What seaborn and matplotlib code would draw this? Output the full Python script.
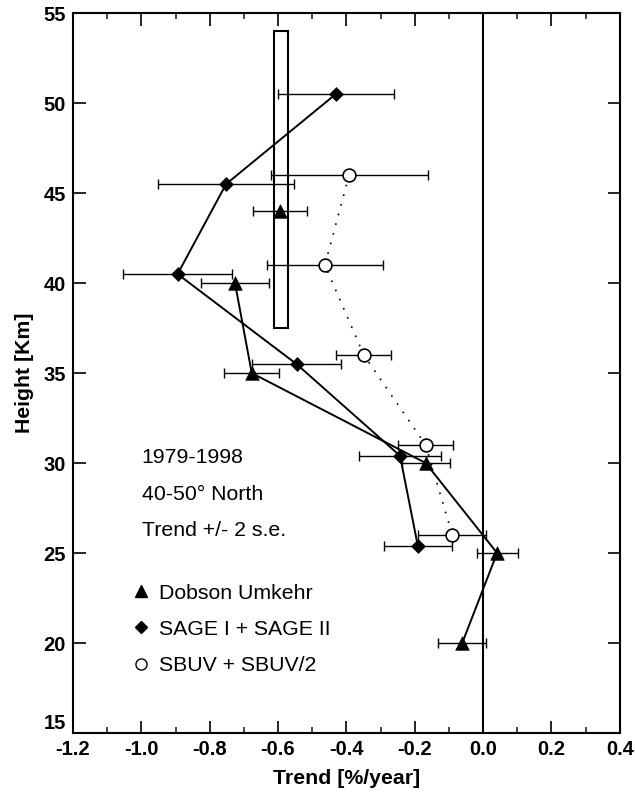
import numpy as np
import pandas as pd
import seaborn as sns
import matplotlib.pyplot as plt
from matplotlib.lines import Line2D
from matplotlib.patches import Rectangle
from matplotlib.ticker import MultipleLocator

# Dobson Umkehr trends (the top point is not joined to the line)
dobson_height = [44, 40, 35, 30, 25, 20]
dobson_trend = [-0.594, -0.726, -0.677, -0.168, 0.041, -0.061]
dobson_err = [0.08, 0.10, 0.08, 0.07, 0.06, 0.07]
dobson_joined = [False, True, True, True, True, True]

# SAGE I + SAGE II trends
sage_height = [50.5, 45.5, 40.5, 35.5, 30.4, 25.4]
sage_trend = [-0.431, -0.752, -0.894, -0.546, -0.243, -0.191]
sage_err = [0.17, 0.20, 0.16, 0.13, 0.12, 0.10]

# SBUV + SBUV/2 trends
sbuv_height = [46, 41, 36, 31, 26]
sbuv_trend = [-0.392, -0.463, -0.349, -0.168, -0.09]
sbuv_err = [0.23, 0.17, 0.08, 0.08, 0.10]

# vertical box
box_x = [-0.613, -0.570]
box_y = [37.5, 54.0]

xticks = [-1.2, -1.0, -0.8, -0.6, -0.4, -0.2, 0.0, 0.2, 0.4]
xtick_labels = ["-1.2", "-1.0", "-0.8", "-0.6", "-0.4", "-0.2", "0.0", "0.2", "0.4"]
yticks = [15, 20, 25, 30, 35, 40, 45, 50, 55]

sns.set_theme(style="ticks")
plt.rcParams['font.family'] = ['Liberation Sans', 'DejaVu Sans']
plt.rcParams['text.color'] = 'black'
plt.rcParams['axes.labelcolor'] = 'black'

df_dob = pd.DataFrame({"trend": dobson_trend, "height": dobson_height,
                       "err": dobson_err, "joined": dobson_joined})
df_sage = pd.DataFrame({"trend": sage_trend, "height": sage_height, "err": sage_err})
df_sbuv = pd.DataFrame({"trend": sbuv_trend, "height": sbuv_height, "err": sbuv_err})

fig = plt.figure(figsize=(6.35, 7.92), dpi=100)
ax = fig.add_axes([0.115, 0.0745, 0.861, 0.909])

# zero line
ax.axvline(0.0, color="black", lw=1.5, zorder=1)

# box
ax.add_patch(Rectangle((box_x[0], box_y[0]), box_x[1] - box_x[0], box_y[1] - box_y[0],
                       fill=False, edgecolor="black", lw=1.5, zorder=2))

# error bars
for d in (df_dob, df_sage, df_sbuv):
    ax.errorbar(d["trend"], d["height"], xerr=d["err"], fmt="none", ecolor="black",
                elinewidth=1.0, capsize=3.5, capthick=1.0, zorder=3)

# connecting lines
sns.lineplot(data=df_dob[df_dob["joined"]], x="trend", y="height", sort=False,
             estimator=None, ax=ax, color="black", lw=1.4, zorder=4)
sns.lineplot(data=df_sage, x="trend", y="height", sort=False, estimator=None, ax=ax,
             color="black", lw=1.4, zorder=4)
sns.lineplot(data=df_sbuv, x="trend", y="height", sort=False, estimator=None, ax=ax,
             color="black", lw=1.2, linestyle=(0, (1, 5)), zorder=4)

# markers
sns.scatterplot(data=df_dob, x="trend", y="height", ax=ax, marker="^", s=95,
                color="black", edgecolor="black", linewidth=0.5, zorder=5)
sns.scatterplot(data=df_sage, x="trend", y="height", ax=ax, marker="D", s=50,
                color="black", edgecolor="black", linewidth=0.5, zorder=5)
sns.scatterplot(data=df_sbuv, x="trend", y="height", ax=ax, marker="o", s=85,
                color="white", edgecolor="black", linewidth=1.2, zorder=5)

ax.set_xlim(-1.2, 0.4)
ax.set_ylim(15, 55)
ax.set_xticks(xticks)
ax.set_xticklabels(xtick_labels)
ax.set_yticks(yticks)
ax.xaxis.set_minor_locator(MultipleLocator(0.1))
ax.tick_params(axis="both", which="major", direction="in", top=True, right=True,
               length=9, width=1.2, pad=5, labelsize=14.5, colors="black")
ax.tick_params(axis="x", which="minor", direction="in", top=True, bottom=True,
               length=4, width=1.2)
for lab in ax.get_xticklabels() + ax.get_yticklabels():
    lab.set_fontweight("bold")
# bottom y label sits on the corner, as in the original
ax.get_yticklabels()[0].set_verticalalignment("bottom")
for sp in ax.spines.values():
    sp.set_linewidth(1.5)
    sp.set_color("black")

ax.set_xlabel("Trend [%/year]", fontsize=15.3, fontweight="bold", labelpad=7)
ax.set_ylabel("Height [Km]", fontsize=15.3, fontweight="bold", labelpad=7)

ax.text(0.1256, 0.382, "1979-1998", transform=ax.transAxes, fontsize=15.3, va="center")
ax.text(0.1256, 0.331, "40-50° North", transform=ax.transAxes, fontsize=15.3, va="center")
ax.text(0.1256, 0.281, "Trend +/- 2 s.e.", transform=ax.transAxes, fontsize=15.3, va="center")

handles = [
    Line2D([], [], ls="none", marker="^", color="black", markersize=8),
    Line2D([], [], ls="none", marker="D", color="black", markersize=6),
    Line2D([], [], ls="none", marker="o", markerfacecolor="white",
           markeredgecolor="black", markersize=8),
]
ax.legend(handles, ["Dobson Umkehr", "SAGE I + SAGE II", "SBUV + SBUV/2"],
          loc="upper left", bbox_to_anchor=(0.108, 0.2076), frameon=False,
          fontsize=15.3, handlelength=0.8, handletextpad=0.45, labelspacing=0.81,
          borderpad=0, borderaxespad=0)

fig.savefig("out.png", dpi=100)
